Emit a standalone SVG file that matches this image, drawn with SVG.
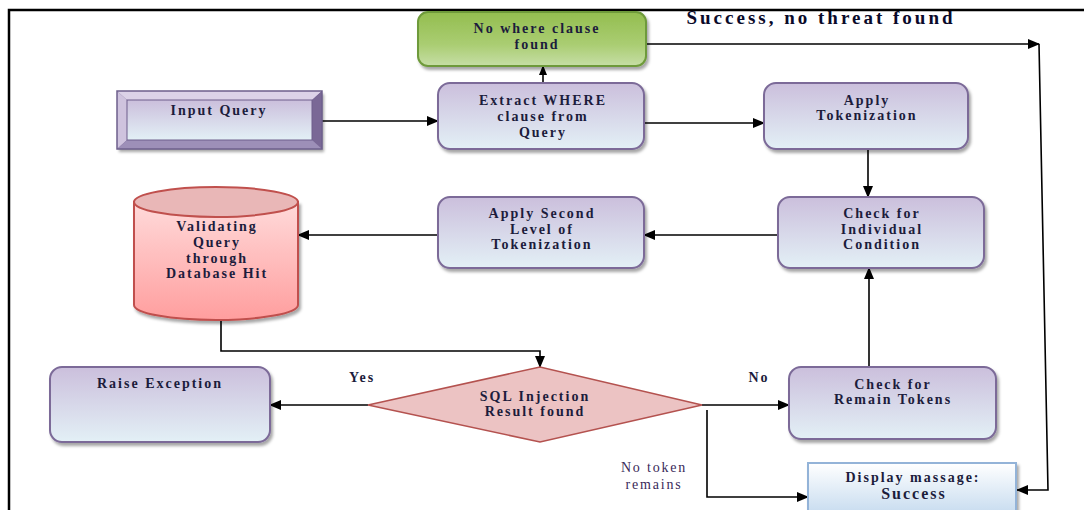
<svg xmlns="http://www.w3.org/2000/svg" width="1084" height="510" viewBox="0 0 1084 510">
<defs>
<linearGradient id="gPurple" x1="0" y1="0" x2="0" y2="1">
<stop offset="0" stop-color="#cbbfdc"/><stop offset="1" stop-color="#e3f0f6"/>
</linearGradient>
<linearGradient id="gGreen" x1="0" y1="0" x2="0" y2="1">
<stop offset="0" stop-color="#93bd4f"/><stop offset="0.6" stop-color="#aacd72"/><stop offset="1" stop-color="#c6dea6"/>
</linearGradient>
<linearGradient id="gRed" x1="0" y1="0" x2="0" y2="1">
<stop offset="0" stop-color="#ffdada"/><stop offset="1" stop-color="#ff9e9e"/>
</linearGradient>
<linearGradient id="gBlue" x1="0" y1="0" x2="0" y2="1">
<stop offset="0" stop-color="#ffffff"/><stop offset="1" stop-color="#c6dbef"/>
</linearGradient>
<filter id="sh" x="-10%" y="-10%" width="130%" height="140%">
<feDropShadow dx="2" dy="3" stdDeviation="1.5" flood-color="#000" flood-opacity="0.35"/>
</filter>
<marker id="ah" markerWidth="12" markerHeight="10" refX="11" refY="5" orient="auto" markerUnits="userSpaceOnUse">
<path d="M0,0 L12,5 L0,10 Z" fill="#000"/>
</marker>
<marker id="ahs" markerWidth="10" markerHeight="8" refX="9" refY="4" orient="auto" markerUnits="userSpaceOnUse">
<path d="M0,0 L10,4 L0,8 Z" fill="#000"/>
</marker>
</defs>
<style>
.t{font-family:"Liberation Serif","Times New Roman",serif;font-weight:bold;font-size:14px;fill:#1c1c3c;text-anchor:middle;letter-spacing:2px}
.n{font-family:"Liberation Serif","Times New Roman",serif;font-size:14px;fill:#3a2a5a;text-anchor:middle;letter-spacing:1.8px}
.box{fill:url(#gPurple);stroke:#7b6a98;stroke-width:2;filter:url(#sh)}
.c{fill:none;stroke:#000;stroke-width:1.6}
</style>
<rect width="1084" height="510" fill="#fff"/>
<path d="M9,510 V10 H1084" fill="none" stroke="#000" stroke-width="2.5"/>

<g id="connectors">
<line class="c" x1="322" y1="121" x2="438" y2="121" marker-end="url(#ah)"/>
<line class="c" x1="543" y1="83" x2="543" y2="66" marker-end="url(#ahs)"/>
<line class="c" x1="644" y1="123" x2="764" y2="123" marker-end="url(#ah)"/>
<line class="c" x1="646" y1="44" x2="1039" y2="44" marker-end="url(#ah)"/>
<polyline class="c" points="1039,44 1048,490 1017,490" marker-end="url(#ah)"/>
<line class="c" x1="868" y1="149" x2="868" y2="197" marker-end="url(#ah)"/>
<line class="c" x1="778" y1="235" x2="644" y2="235" marker-end="url(#ah)"/>
<line class="c" x1="438" y1="235" x2="298" y2="235" marker-end="url(#ah)"/>
<polyline class="c" points="221,320 221,351 540,351 540,367" marker-end="url(#ah)"/>
<line class="c" x1="368" y1="405" x2="270" y2="405" marker-end="url(#ah)"/>
<line class="c" x1="702" y1="405" x2="789" y2="405" marker-end="url(#ah)"/>
<line class="c" x1="869" y1="367" x2="869" y2="268" marker-end="url(#ah)"/>
<polyline class="c" points="707,410 707,497 808,497" marker-end="url(#ah)"/>
<text class="t" x="362" y="382">Yes</text>
<text class="t" x="759" y="382">No</text>
<text class="n" x="654" y="472">No token</text>
<text class="n" x="654" y="489">remains</text>
<text class="t" x="821" y="24" style="font-size:19px;letter-spacing:3px;fill:#0a0a2a">Success, no threat found</text>
</g>

<g id="input-query">
<rect x="117" y="91" width="205" height="58" fill="#7b6a98" filter="url(#sh)"/>
<polygon points="117,91 322,91 312,100 127,100" fill="#dcd2e8"/>
<polygon points="117,91 127,100 127,140 117,149" fill="#cfc3de"/>
<polygon points="322,91 322,149 312,140 312,100" fill="#7a6896"/>
<polygon points="117,149 322,149 312,140 127,140" fill="#9d8fb8"/>
<rect x="127" y="100" width="185" height="40" fill="url(#gPurple)" stroke="#6e5f8c" stroke-width="1"/>
<rect x="117" y="91" width="205" height="58" fill="none" stroke="#6e5f8c" stroke-width="1.5"/>
<text class="t" x="219" y="115">Input Query</text>
</g>

<g id="no-where">
<rect x="418" y="12" width="228" height="54" rx="10" fill="url(#gGreen)" stroke="#6e9a3a" stroke-width="2" filter="url(#sh)"/>
<text class="t" x="537" y="33">No where clause</text>
<text class="t" x="537" y="49">found</text>
</g>

<g id="extract">
<rect class="box" x="438" y="83" width="206" height="66" rx="12"/>
<text class="t" x="543" y="105">Extract WHERE</text>
<text class="t" x="543" y="121">clause from</text>
<text class="t" x="543" y="137">Query</text>
</g>

<g id="apply-tokenization">
<rect class="box" x="764" y="83" width="204" height="66" rx="12"/>
<text class="t" x="867" y="105">Apply</text>
<text class="t" x="867" y="120">Tokenization</text>
</g>

<g id="check-individual">
<rect class="box" x="778" y="197" width="206" height="71" rx="12"/>
<text class="t" x="882" y="218">Check for</text>
<text class="t" x="882" y="234">Individual</text>
<text class="t" x="882" y="249">Condition</text>
</g>

<g id="apply-second">
<rect class="box" x="438" y="197" width="206" height="71" rx="12"/>
<text class="t" x="542" y="218">Apply Second</text>
<text class="t" x="542" y="234">Level of</text>
<text class="t" x="542" y="249">Tokenization</text>
</g>

<g id="validating">
<path d="M134,202 V305 A82,15 0 0 0 298,305 V202 Z" fill="url(#gRed)" stroke="#c0504d" stroke-width="2" filter="url(#sh)"/>
<ellipse cx="216" cy="202" rx="82" ry="15" fill="#e9b7b7" stroke="#c0504d" stroke-width="2"/>
<text class="t" x="217" y="231">Validating</text>
<text class="t" x="217" y="247">Query</text>
<text class="t" x="217" y="263">through</text>
<text class="t" x="217" y="278">Database Hit</text>
</g>

<g id="raise-exception">
<rect class="box" x="50" y="367" width="220" height="75" rx="12"/>
<text class="t" x="160" y="388">Raise Exception</text>
</g>

<g id="sql-injection">
<polygon points="368,405 540,367 702,405 540,442" fill="#ecc3c3" stroke="#b4524f" stroke-width="1.5"/>
<text class="t" x="535" y="401">SQL Injection</text>
<text class="t" x="535" y="416">Result found</text>
</g>

<g id="check-remain">
<rect class="box" x="789" y="367" width="207" height="72" rx="12"/>
<text class="t" x="893" y="389">Check for</text>
<text class="t" x="893" y="404">Remain Tokens</text>
</g>

<g id="display">
<rect x="808" y="463" width="208" height="52" fill="url(#gBlue)" stroke="#93b3d8" stroke-width="2" filter="url(#sh)"/>
<text class="t" x="913" y="482">Display massage:</text>
<text class="t" x="914" y="499" style="font-size:16px">Success</text>
</g>
</svg>
